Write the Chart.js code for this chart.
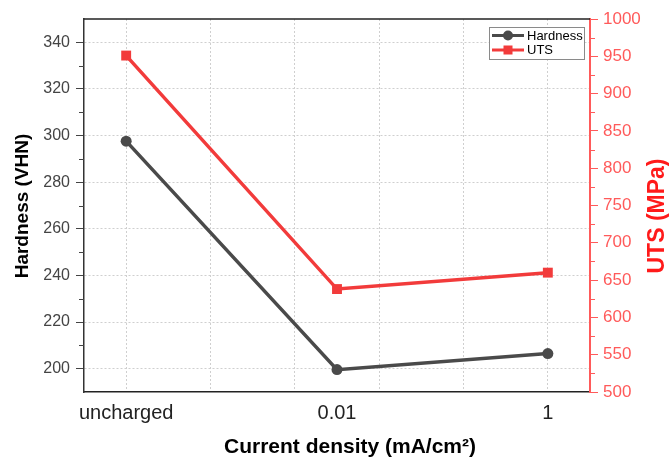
<!DOCTYPE html>
<html>
<head>
<meta charset="utf-8">
<script src="https://cdn.jsdelivr.net/npm/chart.js@4/dist/chart.umd.min.js"></script>
<style>
html,body{margin:0;padding:0;background:#fff;}
canvas{display:block;}
</style>
</head>
<body>
<canvas id="c" width="670" height="461"></canvas>
<script>
const categories = ['uncharged', '0.01', '1'];
const hardness = [297.6, 199.6, 206.5];
const uts = [951, 638, 660];
const leftTicks = [200, 220, 240, 260, 280, 300, 320, 340];
const leftMinor = [210, 230, 250, 270, 290, 310, 330];
const rightTicks = [500, 550, 600, 650, 700, 750, 800, 850, 900, 950, 1000];
const rightMinor = [525, 575, 625, 675, 725, 775, 825, 875, 925, 975];
const xGrid = [0, 0.4, 0.8, 1, 1.2, 1.6, 2];

const FONT = '"Liberation Sans", Arial, sans-serif';
const GRAY = '#4a4a4a';
const RED = '#f23b3b';
const RED_AXIS = '#ff5a5a';
const GRID = '#cfcfcf';

const extras = {
  id: 'extras',
  afterDraw(chart) {
    const ctx = chart.ctx, a = chart.chartArea;
    const yl = chart.scales.y, yr = chart.scales.y1;
    ctx.save();
    // top frame
    ctx.strokeStyle = '#222'; ctx.lineWidth = 1.5;
    ctx.beginPath(); ctx.moveTo(a.left, a.top); ctx.lineTo(a.right, a.top); ctx.stroke();
    // minor ticks
    ctx.lineWidth = 1;
    ctx.strokeStyle = '#444';
    for (const v of leftMinor) {
      const p = Math.round(yl.getPixelForValue(v)) + 0.5;
      ctx.beginPath(); ctx.moveTo(a.left - 5, p); ctx.lineTo(a.left, p); ctx.stroke();
    }
    ctx.strokeStyle = RED_AXIS;
    for (const v of rightMinor) {
      const p = Math.round(yr.getPixelForValue(v)) + 0.5;
      ctx.beginPath(); ctx.moveTo(a.right, p); ctx.lineTo(a.right + 5, p); ctx.stroke();
    }
    // axis titles
    ctx.textAlign = 'center'; ctx.textBaseline = 'middle';
    ctx.fillStyle = '#000';
    ctx.font = 'bold 19px ' + FONT;
    ctx.save(); ctx.translate(23, 206); ctx.rotate(-Math.PI / 2); ctx.fillText('Hardness (VHN)', 0, 0); ctx.restore();
    ctx.fillStyle = '#ff1a1a';
    ctx.font = 'bold 23px ' + FONT;
    ctx.save(); ctx.translate(658, 216); ctx.rotate(-Math.PI / 2); ctx.fillText('UTS (MPa)', 0, 0); ctx.restore();
    ctx.fillStyle = '#000';
    ctx.font = 'bold 21px ' + FONT;
    ctx.fillText('Current density (mA/cm\u00B2)', 350, 447);
    // legend
    const lx = 489.5, ly = 27.5, lw = 95, lh = 32;
    ctx.fillStyle = '#fff'; ctx.fillRect(lx, ly, lw, lh);
    ctx.strokeStyle = '#8a8a8a'; ctx.lineWidth = 1; ctx.strokeRect(lx, ly, lw, lh);
    const rows = [
      {label: chart.data.datasets[0].label, color: GRAY, style: 'circle', y: 35.5},
      {label: chart.data.datasets[1].label, color: RED, style: 'rect', y: 50}
    ];
    ctx.font = '13px ' + FONT;
    ctx.textAlign = 'left';
    for (const r of rows) {
      ctx.strokeStyle = r.color; ctx.lineWidth = 3;
      ctx.beginPath(); ctx.moveTo(492, r.y); ctx.lineTo(524, r.y); ctx.stroke();
      ctx.fillStyle = r.color;
      if (r.style === 'circle') { ctx.beginPath(); ctx.arc(508, r.y, 5, 0, Math.PI * 2); ctx.fill(); }
      else { ctx.fillRect(503.5, r.y - 4.5, 9, 9); }
      ctx.fillStyle = '#000';
      ctx.fillText(r.label, 527, r.y + 0.5);
    }
    ctx.restore();
  }
};

new Chart(document.getElementById('c'), {
  type: 'line',
  data: {
    datasets: [
      {
        label: 'Hardness',
        data: categories.map((c, i) => ({x: i, y: hardness[i]})),
        yAxisID: 'y',
        borderColor: GRAY, backgroundColor: GRAY,
        borderWidth: 3.5, pointRadius: 5.5, pointBorderWidth: 0,
        pointStyle: 'circle', tension: 0
      },
      {
        label: 'UTS',
        data: categories.map((c, i) => ({x: i, y: uts[i]})),
        yAxisID: 'y1',
        borderColor: RED, backgroundColor: RED,
        borderWidth: 3.5, pointRadius: 7, pointBorderWidth: 0,
        pointStyle: 'rect', tension: 0
      }
    ]
  },
  options: {
    responsive: false,
    animation: false,
    devicePixelRatio: 1,
    layout: {padding: {top: 19, left: 0, right: 0, bottom: 0}},
    plugins: {legend: {display: false}, tooltip: {enabled: false}},
    scales: {
      x: {
        type: 'linear', min: -0.2, max: 2.2,
        afterBuildTicks: s => { s.ticks = xGrid.map(v => ({value: v})); },
        afterFit: s => { s.height = 69; },
        ticks: {
          autoSkip: false, maxRotation: 0, padding: 9,
          color: '#222', font: {family: FONT, size: 20},
          callback: v => { const i = [0, 1, 2].indexOf(v); return i >= 0 ? categories[i] : ''; }
        },
        grid: {
          drawTicks: false, lineWidth: 1,
          color: c => (c.tick && c.tick.value === 1) ? 'rgba(0,0,0,0)' : GRID
        },
        border: {display: true, color: '#222', width: 1.5, dash: [2, 2]}
      },
      y: {
        type: 'linear', position: 'left', min: 190, max: 350,
        afterBuildTicks: s => { s.ticks = leftTicks.map(v => ({value: v})); },
        afterFit: s => { s.width = 84; },
        ticks: {padding: 6, color: '#444', font: {family: FONT, size: 16}, callback: v => String(v)},
        grid: {
          drawTicks: true, tickLength: 8, lineWidth: 1,
          color: GRID, tickColor: '#444', tickWidth: 1, tickBorderDash: []
        },
        border: {display: true, color: '#333', width: 1.5, dash: [2, 2]}
      },
      y1: {
        type: 'linear', position: 'right', min: 500, max: 1000,
        afterBuildTicks: s => { s.ticks = rightTicks.map(v => ({value: v})); },
        afterFit: s => { s.width = 80; },
        ticks: {padding: 5, color: RED_AXIS, font: {family: FONT, size: 17}, callback: v => String(v)},
        grid: {
          drawOnChartArea: false, drawTicks: true, tickLength: 8,
          color: RED_AXIS, tickColor: RED_AXIS, tickWidth: 1
        },
        border: {display: true, color: RED_AXIS, width: 2}
      }
    }
  },
  plugins: [extras]
});
</script>
</body>
</html>
